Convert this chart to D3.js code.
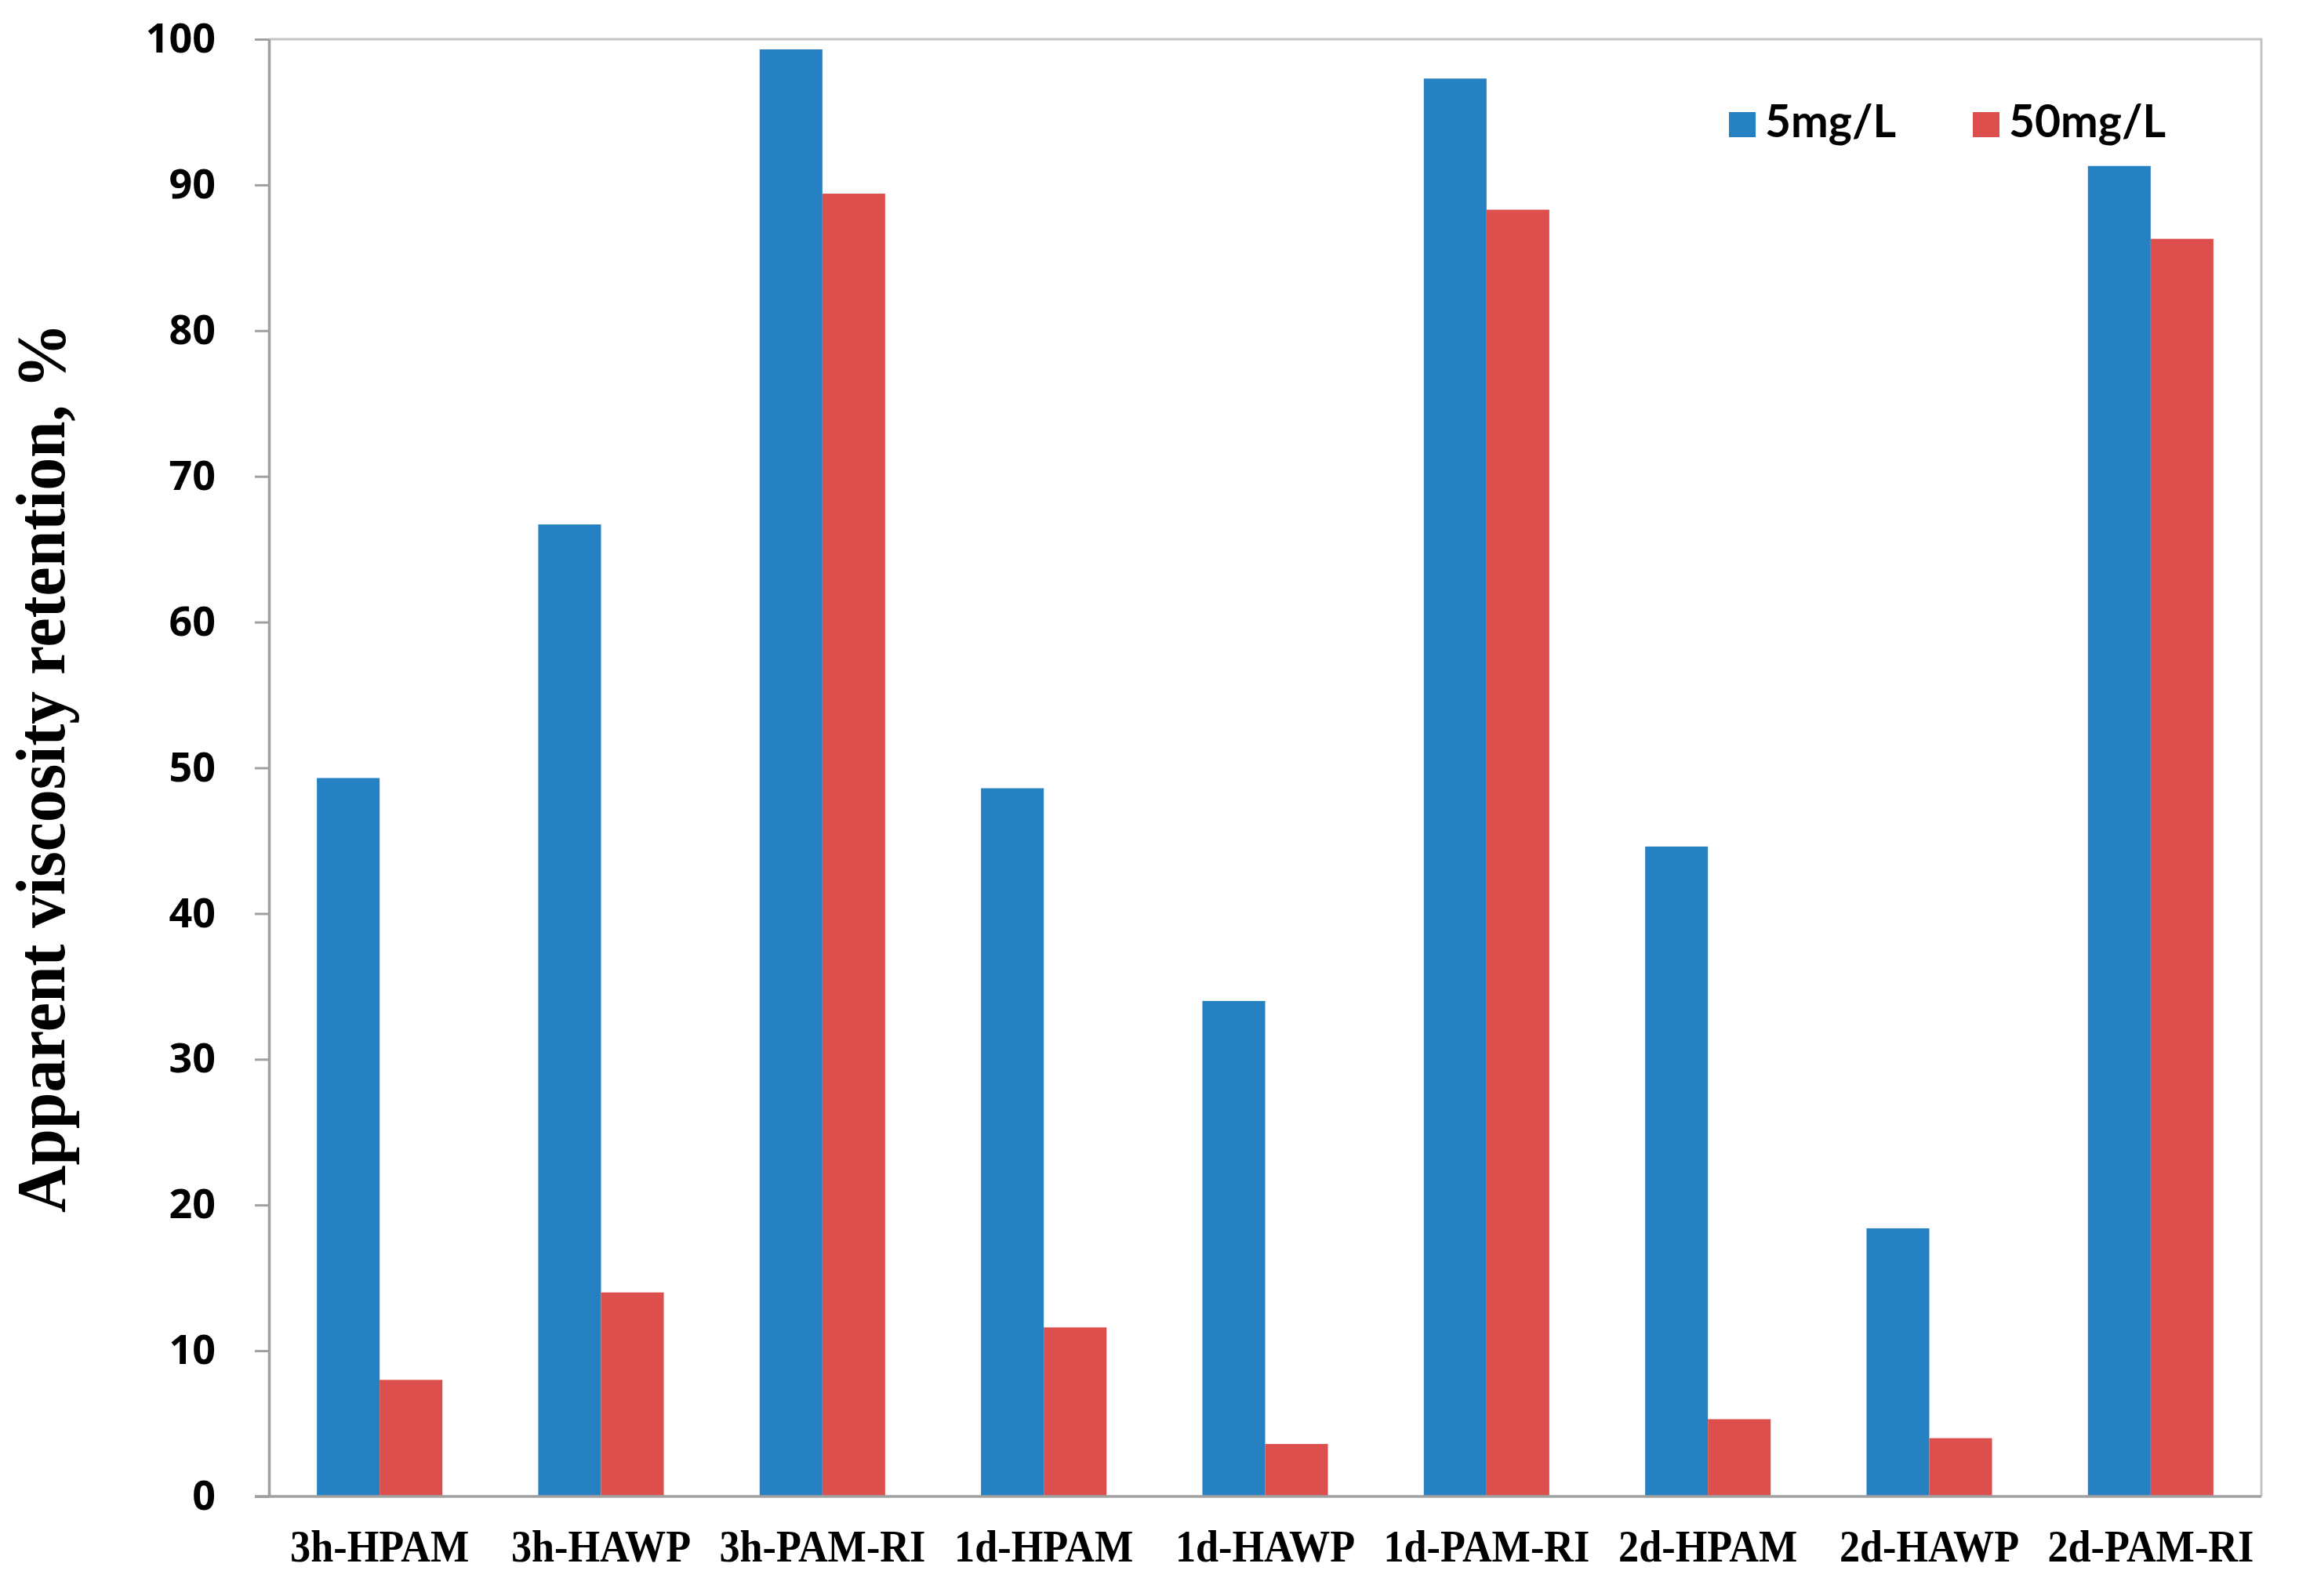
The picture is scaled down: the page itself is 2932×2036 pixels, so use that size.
<!DOCTYPE html>
<html><head><meta charset="utf-8">
<script src="https://cdn.jsdelivr.net/npm/d3@7"></script>
<style>html,body{margin:0;padding:0;background:#fff;}</style>
</head><body>
<script>
const categories = ["3h-HPAM","3h-HAWP","3h-PAM-RI","1d-HPAM","1d-HAWP","1d-PAM-RI","2d-HPAM","2d-HAWP","2d-PAM-RI"];
const seriesNames = ["5mg/L","50mg/L"];
const values5 = [49.3, 66.7, 99.3, 48.6, 34.0, 97.3, 44.6, 18.4, 91.3];
const values50 = [8.0, 14.0, 89.4, 11.6, 3.6, 88.3, 5.3, 4.0, 86.3];
const yTicks = [0,10,20,30,40,50,60,70,80,90,100];
const colors = ["#2681C2", "#DC4F4C"];

const W = 2932, H = 2036;
const m = {left: 343, right: W - 2884, top: 50, bottom: H - 1909};
const svg = d3.select("body").append("svg").attr("width", W).attr("height", H);

const x = d3.scaleBand().domain(categories).range([m.left, W - m.right]).paddingInner(0.433).paddingOuter(0.2165);
const xs = d3.scaleBand().domain(seriesNames).range([0, x.bandwidth()]);
const y = d3.scaleLinear().domain([0, 100]).range([H - m.bottom, m.top]);

// plot border (top & right)
svg.append("path")
  .attr("d", `M${m.left},${m.top}H${W - m.right}V${H - m.bottom}`)
  .attr("fill", "none").attr("stroke", "#C4C4C4").attr("stroke-width", 3);

const data = categories.map((c, i) => ({c, v: [values5[i], values50[i]]}));
const g = svg.append("g");
data.forEach(d => {
  d.v.forEach((v, j) => {
    g.append("rect")
      .attr("x", x(d.c) + xs(seriesNames[j]))
      .attr("width", xs.bandwidth())
      .attr("y", y(v))
      .attr("height", y(0) - y(v))
      .attr("fill", colors[j]);
  });
});

// Y axis
const yAxis = svg.append("g").attr("transform", `translate(${m.left},0)`)
  .call(d3.axisLeft(y).tickValues(yTicks).tickSize(18).tickPadding(50).tickSizeOuter(0));
yAxis.select(".domain").attr("stroke", "#A0A0A0").attr("stroke-width", 3.5);
yAxis.selectAll(".tick line").attr("stroke", "#A0A0A0").attr("stroke-width", 3);
yAxis.selectAll(".tick text").attr("font-family", "'Open Sans', sans-serif")
  .attr("font-weight", "bold").attr("font-size", 52).attr("fill", "#000");

// X axis
const xAxis = svg.append("g").attr("transform", `translate(0,${H - m.bottom})`)
  .call(d3.axisBottom(x).tickSize(0).tickPadding(42).tickSizeOuter(0));
xAxis.select(".domain").attr("stroke", "#A0A0A0").attr("stroke-width", 3.5)
  .attr("d", `M${m.left - 18},0H${W - m.right}`);
xAxis.selectAll(".tick text").attr("font-family", "'Liberation Serif', 'Times New Roman', serif")
  .attr("font-weight", "bold").attr("font-size", 58).attr("fill", "#000")
  .each(function() {
    const L = this.getComputedTextLength();
    d3.select(this).attr("textLength", L * 0.9).attr("lengthAdjust", "spacingAndGlyphs");
  });

// Y title
svg.append("text")
  .attr("transform", `translate(82, ${(y(0)+y(100))/2}) rotate(-90)`)
  .attr("text-anchor", "middle")
  .attr("font-family", "'Liberation Serif', 'Times New Roman', serif")
  .attr("font-weight", "bold").attr("font-size", 88)
  .attr("textLength", 1135).attr("lengthAdjust", "spacingAndGlyphs")
  .text("Apparent viscosity retention, %");

// Legend
const legendX = [2205, 2516];
const legend = svg.append("g");
seriesNames.forEach((s, i) => {
  legend.append("rect").attr("x", legendX[i]).attr("y", 143).attr("width", 34).attr("height", 32).attr("fill", colors[i]);
  legend.append("text").attr("x", legendX[i] + 46).attr("y", 175)
    .attr("font-family", "Lato, 'Open Sans', sans-serif").attr("font-weight", "bold")
    .attr("font-size", 57).attr("fill", "#000").text(s);
});
</script>
</body></html>
